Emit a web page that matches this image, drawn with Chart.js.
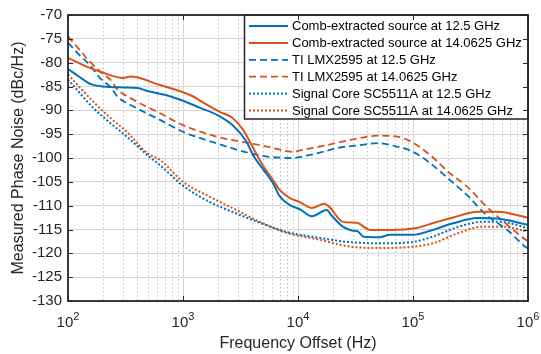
<!DOCTYPE html>
<html>
<head>
<meta charset="utf-8">
<script src="https://cdn.jsdelivr.net/npm/chart.js@4.4.0/dist/chart.umd.min.js"></script>
<style>
  html, body { margin: 0; padding: 0; background: #fff; }
  #wrap { width: 541px; height: 354px; }
</style>
</head>
<body>
<div id="wrap"><canvas id="pnChart"></canvas></div>
<script>
// legend names
var seriesNames = [
  'Comb-extracted source at 12.5 GHz',
  'Comb-extracted source at 14.0625 GHz',
  'TI LMX2595 at 12.5 GHz',
  'TI LMX2595 at 14.0625 GHz',
  'Signal Core SC5511A at 12.5 GHz',
  'Signal Core SC5511A at 14.0625 GHz'
];

// comb-extracted source, 12.5 GHz
var freqComb125 = [100, 126, 158, 200, 302, 398, 501, 708, 1000, 1413, 1995, 2692, 3548, 4074, 5012, 6026, 6918, 8511, 10471, 13183, 17783, 19498, 24547, 29512, 33113, 37154, 51286, 63096, 100000, 147911, 223872, 363078, 575440, 1000000];
var comb125 = [-81.3, -83, -84.5, -85, -85.2, -85.3, -86, -86.8, -88, -89.5, -91, -93.1, -96.5, -99.4, -102.5, -105.2, -108, -109.9, -110.8, -112.2, -110.9, -112, -114.4, -115.2, -115.4, -116.5, -116.6, -116.1, -116.1, -115.1, -113.7, -112.6, -112.8, -114];

// comb-extracted source, 14.0625 GHz
var freqComb140 = [100, 155, 191, 302, 347, 631, 1230, 1413, 2089, 2692, 3311, 4074, 5012, 6026, 6918, 8511, 10471, 13183, 16982, 18621, 24547, 32359, 42658, 63096, 107152, 147911, 223872, 363078, 537032, 1000000];
var comb140 = [-79, -81.1, -81.9, -83.2, -82.9, -84.7, -87.1, -88, -90.3, -91.6, -94, -97.9, -101.8, -104.5, -106.7, -108.4, -109.3, -110.5, -109.6, -110.2, -113.4, -113.6, -115.1, -115.1, -114.7, -113.7, -112.5, -111.3, -111.3, -112.5];

// TI LMX2595
var freqTi = [100, 126, 155, 191, 234, 269, 372, 631, 1000, 1950, 3802, 5370, 9120, 10965, 17783, 21878, 34674, 48978, 72444, 100000, 141254, 208930, 295121, 436516, 660693, 912011, 1000000];
var ti125 = [-75.8, -78.4, -80.5, -83.3, -85.1, -87.1, -89.2, -92, -94.5, -96.9, -99, -99.7, -100, -99.7, -98.5, -97.9, -97.3, -96.9, -97.6, -98.7, -101.1, -104.6, -107.8, -112, -115.1, -118.3, -119];
var ti140 = [-74.5, -77.3, -79.8, -81.9, -83.6, -85.6, -87.8, -90.6, -93.1, -95.5, -96.9, -97.6, -98.7, -98.3, -97.3, -96.8, -95.8, -95.3, -95.5, -96.8, -99.4, -103.2, -106, -110.2, -114, -116.8, -117.5];

// Signal Core SC5511A
var freqSc = [100, 166, 234, 324, 490, 631, 1000, 1698, 2692, 4677, 7943, 15849, 26915, 51286, 100000, 147911, 251189, 398107, 575440, 1000000];
var sc125 = [-83.5, -89.5, -92.7, -95.5, -99.4, -101.5, -105.8, -109.2, -111.3, -113.6, -115.5, -116.8, -117.6, -117.9, -117.6, -116.5, -114.4, -113.4, -113.4, -114.7];
var sc140 = [-82.5, -88.2, -91.6, -94.5, -99, -100.4, -105, -108.1, -110.5, -113.4, -115.7, -117.2, -118.5, -118.9, -118.6, -117.9, -115.7, -114.4, -114.4, -115.4];

var xDecades = [100, 1000, 10000, 100000, 1000000];
var xExponents = ['2', '3', '4', '5', '6'];

var BLUE = '#0072BD';
var ORANGE = '#D95319';
var FONT = "'Liberation Sans', Arial, Helvetica, sans-serif";

function pts(xs, ys) {
  return xs.map(function (f, i) { return { x: f, y: ys[i] }; });
}

function line(name, xs, ys, color, dash, width) {
  return {
    label: name,
    data: pts(xs, ys),
    borderColor: color,
    backgroundColor: color,
    borderWidth: width,
    borderDash: dash,
    pointRadius: 0,
    fill: false,
    cubicInterpolationMode: 'monotone'
  };
}

// matlab style box, minor grid, inner ticks, 10^n labels, legend
var matlabAxes = {
  id: 'matlabAxes',
  beforeDatasetsDraw: function (chart) {
    var ctx = chart.ctx, a = chart.chartArea, xs = chart.scales.x;
    ctx.save();
    ctx.strokeStyle = '#bdbdbd';
    ctx.lineWidth = 1;
    ctx.setLineDash([1.5, 2.5]);
    for (var i = 0; i < xDecades.length - 1; i++) {
      for (var m = 2; m <= 9; m++) {
        var px = Math.round(xs.getPixelForValue(m * xDecades[i])) + 0.5;
        ctx.beginPath();
        ctx.moveTo(px, a.top);
        ctx.lineTo(px, a.bottom);
        ctx.stroke();
      }
    }
    ctx.restore();
  },
  afterDatasetsDraw: function (chart) {
    var ctx = chart.ctx, a = chart.chartArea, xs = chart.scales.x, ys = chart.scales.y;
    ctx.save();

    // legend box
    var lx = 244.5, ly = a.top, lw = a.right - lx, lh = 104;
    ctx.fillStyle = '#fff';
    ctx.fillRect(lx, ly, lw, lh);
    ctx.strokeStyle = '#262626';
    ctx.lineWidth = 1.5;
    ctx.setLineDash([]);
    ctx.strokeRect(lx, ly, lw, lh);
    ctx.font = '13px ' + FONT;
    ctx.textBaseline = 'middle';
    ctx.textAlign = 'left';
    chart.data.datasets.forEach(function (ds, i) {
      var ry = ly + 11 + i * 16.9;
      ctx.strokeStyle = ds.borderColor;
      ctx.lineWidth = ds.borderWidth;
      ctx.setLineDash(ds.borderDash);
      ctx.beginPath();
      ctx.moveTo(249, ry);
      ctx.lineTo(288, ry);
      ctx.stroke();
      ctx.setLineDash([]);
      ctx.fillStyle = '#000';
      ctx.fillText(ds.label, 292, ry + 0.5);
    });

    // inner ticks
    ctx.strokeStyle = '#262626';
    ctx.lineWidth = 1;
    ctx.setLineDash([]);
    ys.ticks.forEach(function (t) {
      var py = Math.round(ys.getPixelForValue(t.value)) + 0.5;
      ctx.beginPath();
      ctx.moveTo(a.left, py); ctx.lineTo(a.left + 5, py);
      ctx.moveTo(a.right, py); ctx.lineTo(a.right - 5, py);
      ctx.stroke();
    });
    xDecades.forEach(function (d) {
      var px = Math.round(xs.getPixelForValue(d)) + 0.5;
      ctx.beginPath();
      ctx.moveTo(px, a.bottom); ctx.lineTo(px, a.bottom - 5);
      ctx.moveTo(px, a.top); ctx.lineTo(px, a.top + 5);
      ctx.stroke();
    });

    // frame
    ctx.lineWidth = 1.8;
    ctx.strokeRect(a.left, a.top, a.right - a.left, a.bottom - a.top);
    ctx.restore();
  },
  afterDraw: function (chart) {
    var ctx = chart.ctx, a = chart.chartArea, xs = chart.scales.x;
    ctx.save();
    ctx.fillStyle = '#262626';
    ctx.textBaseline = 'alphabetic';
    ctx.textAlign = 'left';
    xDecades.forEach(function (d, i) {
      var px = xs.getPixelForValue(d);
      ctx.font = '15px ' + FONT;
      var w1 = ctx.measureText('10').width;
      ctx.font = '11px ' + FONT;
      var w2 = ctx.measureText(xExponents[i]).width;
      var x0 = px - (w1 + w2) / 2;
      ctx.font = '15px ' + FONT;
      ctx.fillText('10', x0, a.bottom + 26);
      ctx.font = '11px ' + FONT;
      ctx.fillText(xExponents[i], x0 + w1, a.bottom + 19);
    });
    ctx.restore();
  }
};

var ctx = document.getElementById('pnChart').getContext('2d');
var pnChart = new Chart(ctx, {
  type: 'line',
  data: {
    datasets: [
      line(seriesNames[0], freqComb125, comb125, BLUE, [], 2),
      line(seriesNames[1], freqComb140, comb140, ORANGE, [], 2),
      line(seriesNames[2], freqTi, ti125, BLUE, [7, 4], 1.8),
      line(seriesNames[3], freqTi, ti140, ORANGE, [7, 4], 1.8),
      line(seriesNames[4], freqSc, sc125, BLUE, [2, 2], 2),
      line(seriesNames[5], freqSc, sc140, ORANGE, [2, 2], 2)
    ]
  },
  options: {
    responsive: true,
    maintainAspectRatio: false,
    devicePixelRatio: 1,
    animation: false,
    layout: { padding: { top: 15, right: 13, left: 0, bottom: 0 } },
    plugins: {
      legend: { display: false },
      tooltip: { enabled: false }
    },
    scales: {
      x: {
        type: 'logarithmic',
        min: 100,
        max: 1000000,
        afterBuildTicks: function (scale) {
          scale.ticks = xDecades.map(function (v) { return { value: v }; });
        },
        afterFit: function (scale) { scale.height = 53; },
        ticks: { display: false },
        grid: { color: '#d6d6d6', lineWidth: 1, drawTicks: false },
        border: { display: false },
        title: {
          display: true,
          text: 'Frequency Offset (Hz)',
          color: '#262626',
          font: { family: FONT, size: 16 },
          padding: { top: 0, bottom: 1 }
        }
      },
      y: {
        min: -130,
        max: -70,
        afterFit: function (scale) { scale.width = 68; },
        ticks: {
          stepSize: 5,
          color: '#262626',
          padding: 6,
          font: { family: FONT, size: 15 }
        },
        grid: { color: '#d6d6d6', lineWidth: 1, drawTicks: false },
        border: { display: false },
        title: {
          display: true,
          text: 'Measured Phase Noise (dBc/Hz)',
          color: '#262626',
          font: { family: FONT, size: 16 },
          padding: { top: 9, bottom: 0 }
        }
      }
    }
  },
  plugins: [matlabAxes]
});
</script>
</body>
</html>
